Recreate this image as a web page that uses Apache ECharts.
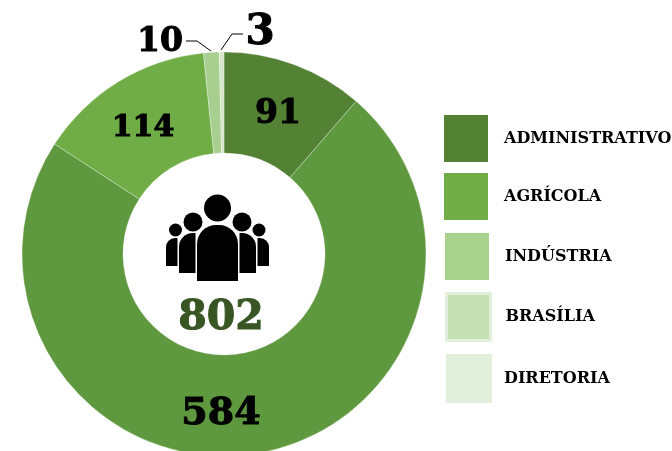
<!DOCTYPE html>
<html><head><meta charset="utf-8">
<style>html,body{margin:0;padding:0;background:#fff;overflow:hidden}#c{width:672px;height:451px}</style>
<script src="https://cdn.jsdelivr.net/npm/echarts@6/dist/echarts.min.js"></script>
</head><body><div id="c"></div>
<script>
const categories = ['ADMINISTRATIVO','AGRÍCOLA','INDÚSTRIA','BRASÍLIA','DIRETORIA'];
const values = [91,584,114,10,3];
const total = 802;
const sliceColors = ['#548235','#5F993F','#70AD47','#A9CF90','#D5E6CA'];
const legendColors = ['#548235','#70AD47','#A9D18E','#C5E0B3','#E2EFDA'];
const labelSizes = [33,38,30,33,42];
const labelCenters = [[278,114],[221,414],[143,128],[160,42],[260,33]];
const leaderLines = [null,null,null,[[186,41],[197,41],[211,51]],[[243,34],[232,34],[221,50]]];
const legendBoxes = [[444,115,44,47,504],[444,173,44,47,504],[445,233,44,47,505],[445,292,44,47,504],[446,354,46,49,504]];
const legendTextTop = [12,0,0,0,0];
const font = '"DejaVu Serif"';
const chart = echarts.init(document.getElementById('c'),null,{renderer:'canvas'});
const black={fill:'#000'};
const bodyRect=(x0,x1,y0,y1,r)=>({type:'rect',shape:{x:x0,y:y0,width:x1-x0,height:y1-y0,r},style:black});
const people=[
 {type:'circle',shape:{cx:217.5,cy:208,r:13.5},style:black},
 {type:'circle',shape:{cx:193,cy:222,r:9.5},style:black},
 {type:'circle',shape:{cx:242,cy:222,r:9.5},style:black},
 {type:'circle',shape:{cx:175.5,cy:230,r:6.5},style:black},
 {type:'circle',shape:{cx:259,cy:230,r:6.5},style:black},
 bodyRect(197,238,225,281,[19,19,0,0]),
 bodyRect(179,195.5,233,273,[14,0,0,0]),
 bodyRect(239.5,256,233,273,[0,14,0,0]),
 bodyRect(166,177.5,238,266,[9,0,0,0]),
 bodyRect(257.5,269,238,266,[0,9,0,0])
];
chart.setOption({
 animation:false,
 backgroundColor:'#fff',
 title:{text:String(total),left:216,top:293,textAlign:'center',
   textStyle:{fontFamily:font,fontWeight:'bold',fontSize:41,color:'#375623',textBorderColor:'#375623',textBorderWidth:1}},
 legend:categories.map((n,i)=>({
   data:[{name:n,itemStyle:{color:legendColors[i],borderWidth:i===3?3:0,borderColor:'#E2EFDA'}}],
   left:legendBoxes[i][0],top:legendBoxes[i][1],padding:0,
   itemWidth:legendBoxes[i][2],itemHeight:legendBoxes[i][3],
   selectedMode:false,icon:'rect',
   textStyle:{fontFamily:font,fontWeight:'bold',fontSize:16,color:'#000',
     padding:[legendTextTop[i],0,0,legendBoxes[i][4]-legendBoxes[i][0]-legendBoxes[i][2]-5]}
 })),
 graphic:{elements:people.map(e=>({...e,silent:true}))},
 series:[{
   type:'pie',center:[224,254],radius:[101,202],startAngle:90,clockwise:true,
   avoidLabelOverlap:false,
   itemStyle:{borderColor:'#fff',borderWidth:0.3},
   emphasis:{disabled:true},
   data:categories.map((n,i)=>({name:n,value:values[i],
     itemStyle:{color:sliceColors[i]},
     label:{show:true,position:i<3?'inside':'outside',formatter:'{c}',fontFamily:font,fontWeight:'bold',fontSize:labelSizes[i],color:'#000',textBorderColor:'#000',textBorderWidth:1},
     labelLine:{show:!!leaderLines[i],lineStyle:{color:'#000',width:1}}
   })),
   labelLayout:p=>{const i=p.dataIndex;return {x:labelCenters[i][0],y:labelCenters[i][1],align:'center',verticalAlign:'middle',
     ...(leaderLines[i]?{labelLinePoints:leaderLines[i]}:{})};}
 }]
});
</script></body></html>
